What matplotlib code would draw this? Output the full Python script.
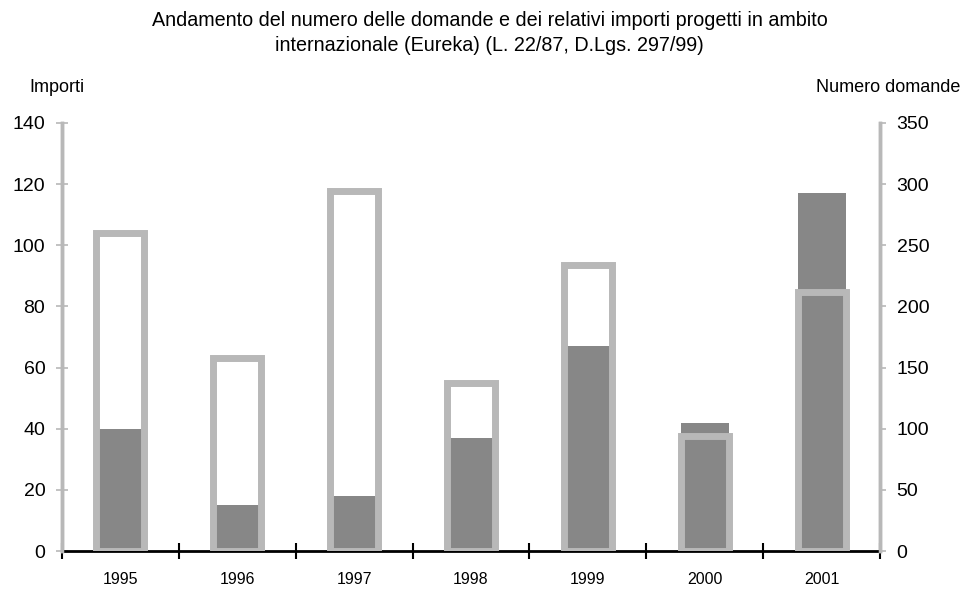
import numpy as np
import matplotlib
matplotlib.use('Agg')
import matplotlib.pyplot as plt

# data
anni = ['1995', '1996', '1997', '1998', '1999', '2000', '2001']
importi = [40, 15, 18, 37, 67, 42, 117]          # left axis (dark bars)
domande = [260, 158, 294, 137, 234, 94, 212]     # right axis (outlined bars)
left_ticks = [0, 20, 40, 60, 80, 100, 120, 140]
right_ticks = [0, 50, 100, 150, 200, 250, 300, 350]

plt.rcParams['font.family'] = ['Liberation Sans', 'DejaVu Sans']

fig = plt.figure(figsize=(9.62, 5.93), dpi=100)
ax = fig.add_axes([0.0644, 0.0708, 0.8504, 0.7218])
ax2 = ax.twinx()

x = np.arange(len(anni))
dark = '#878787'
light = '#b8b8b8'

ax.bar(x, importi, width=0.41, color=dark, zorder=2)
ax2.bar(x, domande, width=0.41, facecolor='none', edgecolor=light,
        linewidth=5, zorder=3)

ax.set_xlim(-0.5, len(anni) - 0.5)
ax.set_ylim(0, 140)
ax2.set_ylim(0, 350)

# category boundaries as major ticks, labels on minor ticks
ax.set_xticks(np.arange(-0.5, len(anni)))
ax.set_xticklabels([])
ax.set_xticks(x, minor=True)
ax.set_xticklabels(anni, minor=True, fontsize=11.5)
ax.tick_params(axis='x', which='major', direction='inout', length=12,
               width=1.5, color='black')
ax.tick_params(axis='x', which='minor', length=0, pad=15)

ax.set_yticks(left_ticks)
ax.set_yticklabels([str(v) for v in left_ticks], fontsize=14)
ax.tick_params(axis='y', direction='inout', length=8, width=1.2,
               color=light, pad=8)
ax2.set_yticks(right_ticks)
ax2.set_yticklabels([str(v) for v in right_ticks], fontsize=14)
ax2.tick_params(axis='y', direction='out', length=4, width=1.2,
                color=light, pad=8)

for a in (ax, ax2):
    a.spines['top'].set_visible(False)
    a.spines['left'].set_color(light)
    a.spines['left'].set_linewidth(2.5)
    a.spines['right'].set_color(light)
    a.spines['right'].set_linewidth(2.5)
    a.spines['bottom'].set_color('black')
    a.spines['bottom'].set_linewidth(2)
    a.spines['bottom'].set_zorder(5)
ax2.spines['bottom'].set_visible(False)
ax.set_zorder(ax2.get_zorder() - 1)
ax.patch.set_visible(False)
ax2.patch.set_visible(False)

fig.text(0.509, 0.966, 'Andamento del numero delle domande e dei relativi importi progetti in ambito',
         ha='center', va='center', fontsize=14.2)
fig.text(0.509, 0.924, 'internazionale (Eureka) (L. 22/87, D.Lgs. 297/99)',
         ha='center', va='center', fontsize=14.2)
fig.text(0.031, 0.852, 'Importi', ha='left', va='center', fontsize=13)
fig.text(0.998, 0.852, 'Numero domande', ha='right', va='center', fontsize=13)

fig.savefig('out.png', dpi=100)
